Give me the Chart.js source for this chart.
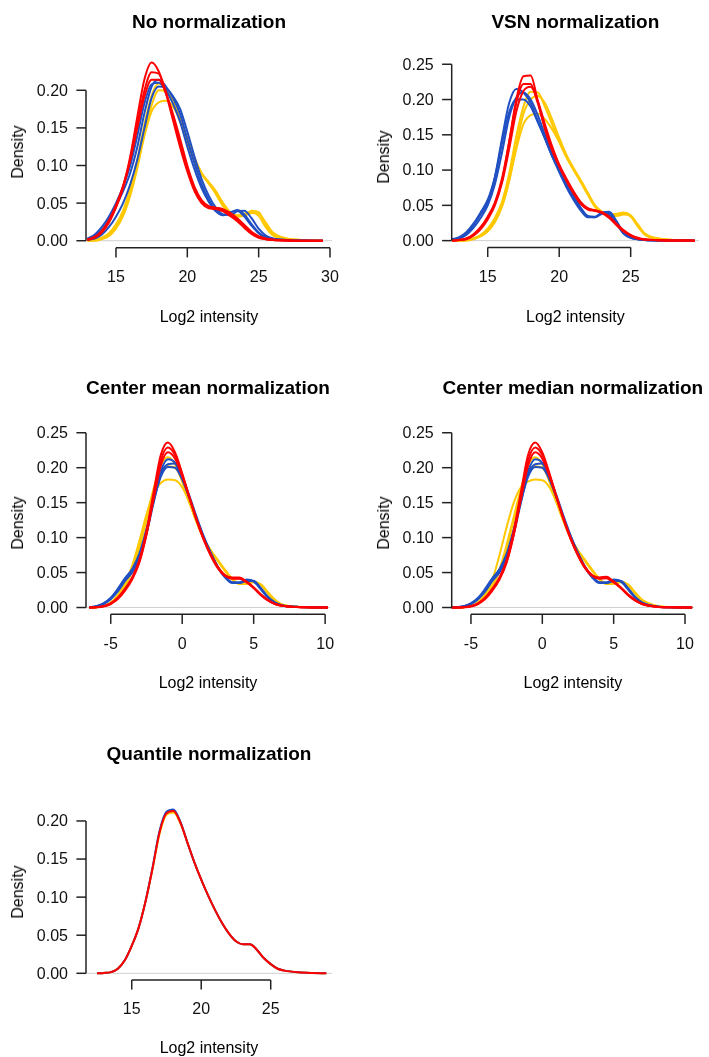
<!DOCTYPE html>
<html>
<head>
<meta charset="utf-8">
<script src="https://cdn.jsdelivr.net/npm/chart.js@4.4.1/dist/chart.umd.min.js"></script>
<style>
  body { margin: 0; background: #fff; width: 709px; height: 1057px; position: relative; overflow: hidden;
         font-family: "Liberation Sans", Arial, sans-serif; color: #000; }
  canvas { position: absolute; }
  .lbl { position: absolute; white-space: nowrap; transform: translate(-50%, -50%); font-size: 16px; line-height: 1; }
  .titulo { font-weight: bold; font-size: 19px; }
  .vert { transform: translate(-50%, -50%) rotate(-90deg); }
</style>
</head>
<body>
<script>
// Curvas de densidade (valores aproximados)

// 1. No normalization
const noNormX = [13, 13.5, 14, 14.5, 15, 15.5, 16, 16.5, 17, 17.5, 18, 18.5, 19, 19.5, 20, 20.5, 21, 21.5, 22, 22.5, 23, 23.5, 24, 24.5, 25, 25.5, 26, 27, 28, 29.5];
const noNormRed = [
  [0.001, 0.004, 0.012, 0.025, 0.045, 0.072, 0.112, 0.165, 0.215, 0.237, 0.225, 0.196, 0.16, 0.124, 0.092, 0.066, 0.05, 0.043, 0.042, 0.039, 0.033, 0.026, 0.017, 0.009, 0.004, 0.002, 0.001, 0.0003, 0, 0],
  [0.001, 0.004, 0.011, 0.024, 0.044, 0.07, 0.108, 0.155, 0.2, 0.224, 0.222, 0.198, 0.165, 0.128, 0.095, 0.07, 0.053, 0.045, 0.043, 0.04, 0.035, 0.028, 0.019, 0.01, 0.005, 0.002, 0.001, 0.0003, 0, 0],
  [0.002, 0.005, 0.013, 0.027, 0.047, 0.073, 0.107, 0.15, 0.192, 0.214, 0.214, 0.196, 0.168, 0.135, 0.1, 0.072, 0.054, 0.046, 0.044, 0.042, 0.037, 0.03, 0.021, 0.012, 0.006, 0.003, 0.0015, 0.0004, 0.0001, 0]
];
const noNormBlue = [
  [0.002, 0.006, 0.014, 0.028, 0.046, 0.066, 0.09, 0.125, 0.17, 0.205, 0.214, 0.205, 0.19, 0.168, 0.135, 0.103, 0.075, 0.055, 0.04, 0.034, 0.037, 0.041, 0.035, 0.022, 0.011, 0.005, 0.0025, 0.0008, 0.0003, 0],
  [0.001, 0.003, 0.008, 0.018, 0.032, 0.05, 0.075, 0.108, 0.15, 0.19, 0.205, 0.203, 0.192, 0.175, 0.145, 0.112, 0.082, 0.06, 0.044, 0.035, 0.034, 0.039, 0.04, 0.03, 0.016, 0.007, 0.003, 0.001, 0.0003, 0],
  [0.003, 0.008, 0.018, 0.032, 0.05, 0.072, 0.1, 0.14, 0.183, 0.208, 0.21, 0.2, 0.182, 0.158, 0.125, 0.095, 0.07, 0.052, 0.039, 0.034, 0.038, 0.04, 0.032, 0.02, 0.01, 0.004, 0.002, 0.0006, 0.0002, 0]
];
const noNormYellow = [
  [0, 0.001, 0.004, 0.01, 0.022, 0.04, 0.07, 0.108, 0.155, 0.193, 0.209, 0.203, 0.183, 0.158, 0.13, 0.105, 0.088, 0.077, 0.062, 0.046, 0.036, 0.034, 0.036, 0.038, 0.033, 0.018, 0.007, 0.002, 0.001, 0],
  [0, 0.001, 0.003, 0.008, 0.018, 0.035, 0.062, 0.1, 0.14, 0.172, 0.184, 0.186, 0.178, 0.16, 0.135, 0.11, 0.09, 0.078, 0.066, 0.05, 0.038, 0.033, 0.034, 0.04, 0.038, 0.022, 0.009, 0.002, 0.001, 0],
  [0, 0, 0.002, 0.006, 0.016, 0.033, 0.06, 0.097, 0.142, 0.18, 0.2, 0.199, 0.186, 0.163, 0.136, 0.11, 0.09, 0.076, 0.064, 0.05, 0.038, 0.032, 0.033, 0.037, 0.036, 0.024, 0.011, 0.003, 0.001, 0]
];

// 2. VSN normalization
const vsnX = [12.5, 13, 13.5, 14, 14.5, 15, 15.5, 16, 16.5, 17, 17.5, 18, 18.5, 19, 19.5, 20, 20.5, 21, 21.5, 22, 22.5, 23, 23.5, 24, 24.5, 25, 25.5, 26, 27, 28, 29.5];
const vsnRed = [
  [0, 0.001, 0.003, 0.008, 0.018, 0.033, 0.052, 0.085, 0.14, 0.2, 0.233, 0.234, 0.198, 0.158, 0.128, 0.105, 0.085, 0.067, 0.052, 0.044, 0.042, 0.039, 0.032, 0.022, 0.013, 0.007, 0.003, 0.0015, 0.0005, 0.0001, 0],
  [0, 0.001, 0.003, 0.009, 0.019, 0.034, 0.054, 0.088, 0.14, 0.195, 0.222, 0.222, 0.195, 0.16, 0.13, 0.106, 0.086, 0.068, 0.053, 0.045, 0.043, 0.04, 0.033, 0.023, 0.014, 0.007, 0.003, 0.0015, 0.0005, 0.0001, 0],
  [0, 0.001, 0.002, 0.007, 0.016, 0.03, 0.05, 0.082, 0.13, 0.183, 0.212, 0.218, 0.198, 0.165, 0.134, 0.108, 0.088, 0.07, 0.055, 0.046, 0.043, 0.04, 0.034, 0.024, 0.015, 0.008, 0.004, 0.0018, 0.0006, 0.0001, 0]
];
const vsnBlue = [
  [0.001, 0.004, 0.01, 0.022, 0.037, 0.055, 0.09, 0.145, 0.195, 0.215, 0.21, 0.195, 0.17, 0.145, 0.12, 0.1, 0.08, 0.062, 0.045, 0.034, 0.033, 0.038, 0.039, 0.025, 0.01, 0.004, 0.002, 0.001, 0.0003, 0.0001, 0],
  [0.001, 0.003, 0.008, 0.018, 0.032, 0.05, 0.08, 0.125, 0.175, 0.203, 0.21, 0.2, 0.178, 0.15, 0.124, 0.102, 0.082, 0.064, 0.047, 0.035, 0.034, 0.04, 0.041, 0.028, 0.012, 0.005, 0.002, 0.001, 0.0003, 0.0001, 0],
  [0.002, 0.005, 0.012, 0.024, 0.04, 0.058, 0.09, 0.138, 0.182, 0.2, 0.2, 0.19, 0.168, 0.145, 0.12, 0.097, 0.076, 0.058, 0.043, 0.033, 0.033, 0.039, 0.037, 0.024, 0.01, 0.004, 0.002, 0.001, 0.0003, 0.0001, 0]
];
const vsnYellow = [
  [0, 0, 0.001, 0.003, 0.008, 0.017, 0.032, 0.055, 0.095, 0.148, 0.19, 0.211, 0.21, 0.19, 0.165, 0.14, 0.118, 0.1, 0.083, 0.065, 0.048, 0.04, 0.037, 0.037, 0.039, 0.034, 0.02, 0.008, 0.002, 0.0008, 0],
  [0, 0, 0.001, 0.003, 0.007, 0.015, 0.028, 0.05, 0.085, 0.13, 0.165, 0.178, 0.18, 0.172, 0.158, 0.14, 0.12, 0.102, 0.085, 0.067, 0.05, 0.041, 0.037, 0.038, 0.04, 0.036, 0.022, 0.009, 0.0025, 0.001, 0],
  [0, 0, 0, 0.002, 0.006, 0.013, 0.026, 0.048, 0.085, 0.135, 0.18, 0.2, 0.205, 0.195, 0.172, 0.146, 0.122, 0.103, 0.086, 0.068, 0.05, 0.04, 0.035, 0.035, 0.037, 0.035, 0.023, 0.01, 0.003, 0.001, 0]
];

// 3. Center mean normalization
const meanX = [-6.5, -6, -5.5, -5, -4.5, -4, -3.5, -3, -2.5, -2, -1.5, -1, -0.5, 0, 0.5, 1, 1.5, 2, 2.5, 3, 3.5, 4, 4.5, 5, 5.5, 6, 6.5, 7, 8, 9, 10.2];
const meanRed = [
  [0, 0.0005, 0.002, 0.006, 0.014, 0.027, 0.043, 0.068, 0.11, 0.165, 0.218, 0.236, 0.222, 0.192, 0.158, 0.125, 0.097, 0.074, 0.056, 0.045, 0.041, 0.041, 0.036, 0.028, 0.018, 0.01, 0.005, 0.0025, 0.0007, 0.0002, 0],
  [0, 0.0005, 0.002, 0.006, 0.014, 0.026, 0.042, 0.066, 0.105, 0.155, 0.203, 0.222, 0.213, 0.188, 0.158, 0.127, 0.099, 0.076, 0.058, 0.046, 0.042, 0.042, 0.037, 0.029, 0.019, 0.011, 0.005, 0.0025, 0.0007, 0.0002, 0],
  [0, 0.0004, 0.0015, 0.005, 0.012, 0.024, 0.04, 0.064, 0.104, 0.158, 0.21, 0.229, 0.218, 0.19, 0.157, 0.126, 0.098, 0.075, 0.057, 0.046, 0.043, 0.043, 0.037, 0.028, 0.018, 0.01, 0.005, 0.0025, 0.0007, 0.0002, 0]
];
const meanBlue = [
  [0.0005, 0.002, 0.006, 0.013, 0.025, 0.04, 0.052, 0.074, 0.11, 0.155, 0.195, 0.212, 0.207, 0.185, 0.157, 0.127, 0.1, 0.077, 0.057, 0.043, 0.035, 0.035, 0.039, 0.037, 0.026, 0.014, 0.006, 0.003, 0.001, 0.0003, 0],
  [0.0005, 0.002, 0.006, 0.014, 0.027, 0.042, 0.055, 0.077, 0.112, 0.152, 0.187, 0.201, 0.2, 0.183, 0.157, 0.128, 0.101, 0.078, 0.058, 0.044, 0.036, 0.036, 0.04, 0.038, 0.027, 0.015, 0.007, 0.003, 0.001, 0.0003, 0],
  [0.0004, 0.0015, 0.005, 0.012, 0.023, 0.038, 0.05, 0.07, 0.105, 0.15, 0.19, 0.205, 0.206, 0.188, 0.16, 0.13, 0.102, 0.078, 0.058, 0.044, 0.036, 0.035, 0.038, 0.038, 0.028, 0.015, 0.007, 0.003, 0.001, 0.0003, 0]
];
const meanYellow = [
  [0, 0.0005, 0.002, 0.007, 0.017, 0.033, 0.055, 0.09, 0.13, 0.17, 0.203, 0.215, 0.205, 0.18, 0.15, 0.122, 0.098, 0.08, 0.066, 0.052, 0.04, 0.034, 0.035, 0.037, 0.032, 0.02, 0.009, 0.004, 0.001, 0.0003, 0],
  [0, 0.0005, 0.002, 0.007, 0.018, 0.035, 0.06, 0.095, 0.133, 0.163, 0.178, 0.183, 0.182, 0.172, 0.15, 0.125, 0.1, 0.082, 0.068, 0.054, 0.041, 0.034, 0.034, 0.037, 0.033, 0.021, 0.01, 0.004, 0.001, 0.0003, 0],
  [0, 0.0005, 0.002, 0.006, 0.015, 0.03, 0.052, 0.085, 0.125, 0.165, 0.195, 0.202, 0.2, 0.182, 0.153, 0.124, 0.099, 0.081, 0.067, 0.053, 0.041, 0.034, 0.034, 0.036, 0.033, 0.022, 0.011, 0.004, 0.001, 0.0003, 0]
];

// 4. Center median normalization
const medianX = [-6.5, -6, -5.5, -5, -4.5, -4, -3.5, -3, -2.5, -2, -1.5, -1, -0.5, 0, 0.5, 1, 1.5, 2, 2.5, 3, 3.5, 4, 4.5, 5, 5.5, 6, 6.5, 7, 8, 9, 10.5];
const medianRed = [
  [0, 0, 0.0005, 0.002, 0.006, 0.014, 0.027, 0.043, 0.068, 0.11, 0.165, 0.218, 0.236, 0.222, 0.192, 0.158, 0.125, 0.097, 0.074, 0.056, 0.045, 0.041, 0.042, 0.036, 0.028, 0.018, 0.01, 0.005, 0.001, 0.0003, 0],
  [0, 0, 0.0005, 0.002, 0.006, 0.014, 0.026, 0.042, 0.066, 0.105, 0.155, 0.203, 0.222, 0.213, 0.188, 0.158, 0.127, 0.099, 0.076, 0.058, 0.046, 0.042, 0.043, 0.037, 0.029, 0.019, 0.011, 0.005, 0.0012, 0.0003, 0],
  [0, 0, 0.0004, 0.0015, 0.005, 0.012, 0.024, 0.04, 0.064, 0.104, 0.158, 0.21, 0.229, 0.218, 0.19, 0.157, 0.126, 0.098, 0.075, 0.057, 0.046, 0.043, 0.044, 0.037, 0.028, 0.018, 0.01, 0.005, 0.0012, 0.0003, 0]
];
const medianBlue = [
  [0.0002, 0.0005, 0.002, 0.006, 0.013, 0.025, 0.04, 0.052, 0.074, 0.11, 0.155, 0.195, 0.212, 0.207, 0.185, 0.157, 0.127, 0.1, 0.077, 0.057, 0.043, 0.035, 0.035, 0.039, 0.037, 0.026, 0.014, 0.006, 0.0015, 0.0004, 0],
  [0.0002, 0.0005, 0.002, 0.006, 0.014, 0.027, 0.042, 0.055, 0.077, 0.112, 0.152, 0.187, 0.201, 0.2, 0.183, 0.157, 0.128, 0.101, 0.078, 0.058, 0.044, 0.036, 0.036, 0.04, 0.038, 0.027, 0.015, 0.007, 0.0016, 0.0004, 0],
  [0.0001, 0.0004, 0.0015, 0.005, 0.012, 0.023, 0.038, 0.05, 0.07, 0.105, 0.15, 0.19, 0.205, 0.206, 0.188, 0.16, 0.13, 0.102, 0.078, 0.058, 0.044, 0.036, 0.035, 0.038, 0.038, 0.028, 0.015, 0.007, 0.0016, 0.0004, 0]
];
const medianYellow = [
  [0, 0, 0.0005, 0.002, 0.007, 0.017, 0.033, 0.055, 0.09, 0.13, 0.17, 0.203, 0.215, 0.205, 0.18, 0.15, 0.122, 0.098, 0.08, 0.066, 0.052, 0.04, 0.034, 0.035, 0.037, 0.032, 0.02, 0.009, 0.002, 0.0005, 0],
  [0, 0, 0.0005, 0.002, 0.008, 0.02, 0.04, 0.075, 0.115, 0.15, 0.172, 0.18, 0.183, 0.182, 0.172, 0.15, 0.125, 0.1, 0.082, 0.068, 0.054, 0.041, 0.034, 0.034, 0.037, 0.033, 0.021, 0.01, 0.002, 0.0005, 0],
  [0, 0, 0.0005, 0.002, 0.006, 0.015, 0.03, 0.052, 0.085, 0.125, 0.165, 0.195, 0.202, 0.2, 0.182, 0.153, 0.124, 0.099, 0.081, 0.067, 0.053, 0.041, 0.034, 0.034, 0.036, 0.033, 0.022, 0.011, 0.0025, 0.0005, 0]
];

// 5. Quantile normalization (curvas praticamente sobrepostas)
const quantX = [12.5, 13, 13.5, 14, 14.5, 15, 15.5, 16, 16.5, 17, 17.5, 18, 18.5, 19, 19.5, 20, 20.5, 21, 21.5, 22, 22.5, 23, 23.5, 24, 24.5, 25, 25.5, 26, 27, 28, 29];
const quantRed = [
  [0, 0.0005, 0.0015, 0.006, 0.017, 0.036, 0.06, 0.095, 0.138, 0.185, 0.21, 0.213, 0.198, 0.172, 0.146, 0.123, 0.102, 0.083, 0.066, 0.052, 0.042, 0.038, 0.038, 0.031, 0.02, 0.012, 0.006, 0.0035, 0.0013, 0.0004, 0]
];
const quantBlue = [
  [0, 0.0005, 0.0015, 0.006, 0.017, 0.036, 0.06, 0.095, 0.139, 0.187, 0.212, 0.215, 0.199, 0.172, 0.146, 0.123, 0.102, 0.083, 0.066, 0.052, 0.042, 0.038, 0.038, 0.031, 0.02, 0.012, 0.006, 0.0035, 0.0013, 0.0004, 0]
];
const quantYellow = [
  [0, 0.0005, 0.0015, 0.006, 0.017, 0.036, 0.06, 0.095, 0.137, 0.183, 0.208, 0.211, 0.197, 0.172, 0.146, 0.123, 0.102, 0.083, 0.066, 0.052, 0.042, 0.038, 0.038, 0.031, 0.02, 0.012, 0.006, 0.0035, 0.0013, 0.0004, 0]
];

// rótulos dos eixos
const ticksY1 = [0, 0.05, 0.10, 0.15, 0.20];
const ticksY2 = [0, 0.05, 0.10, 0.15, 0.20, 0.25];
const ticksXLog = [15, 20, 25, 30];
const ticksXVsn = [15, 20, 25];
const ticksXCenter = [-5, 0, 5, 10];

const titulos = ['No normalization', 'VSN normalization', 'Center mean normalization', 'Center median normalization', 'Quantile normalization'];

const RED = '#FF0000', BLUE = '#1F4FC2', YELLOW = '#FFC800';

// caixa do canvas e área do gráfico (coordenadas da página)
const paineis = [
  { box: [0, 0, 354, 365], plot: [86, 55.3, 332, 247.8], xr: [12.9, 30.14], yr: [-0.0094, 0.2465],
    xs: noNormX, red: noNormRed, blue: noNormBlue, yellow: noNormYellow, tx: ticksXLog, ty: ticksY1, xlabY: 317 },
  { box: [354, 0, 355, 365], plot: [451.7, 66.3, 699, 247.4], xr: [12.48, 29.78], yr: [-0.0096, 0.2471],
    xs: vsnX, red: vsnRed, blue: vsnBlue, yellow: vsnYellow, tx: ticksXVsn, ty: ticksY2, xlabY: 317 },
  { box: [0, 365, 354, 365], plot: [86, 431.7, 330, 614.3], xr: [-6.73, 10.34], yr: [-0.0097, 0.2515],
    xs: meanX, red: meanRed, blue: meanBlue, yellow: meanYellow, tx: ticksXCenter, ty: ticksY2, xlabY: 683 },
  { box: [354, 365, 355, 365], plot: [451.7, 431.7, 694, 614.3], xr: [-6.35, 10.63], yr: [-0.0097, 0.2515],
    xs: medianX, red: medianRed, blue: medianBlue, yellow: medianYellow, tx: ticksXCenter, ty: ticksY2, xlabY: 683 },
  { box: [0, 730, 354, 327], plot: [86, 803, 332, 980], xr: [11.71, 29.41], yr: [-0.0088, 0.2236],
    xs: quantX, red: quantRed, blue: quantBlue, yellow: quantYellow, tx: ticksXVsn, ty: ticksY1, xlabY: 1048 }
];

function addLabel(text, x, y, cls) {
  const d = document.createElement('div');
  d.className = 'lbl ' + (cls || '');
  d.textContent = text;
  d.style.left = x + 'px';
  d.style.top = y + 'px';
  document.body.appendChild(d);
}

paineis.forEach((p, idx) => {
  const [bx, by, bw, bh] = p.box;
  const [pl, pt, pr, pb] = p.plot;
  const cv = document.createElement('canvas');
  cv.width = bw; cv.height = bh;
  cv.style.left = bx + 'px'; cv.style.top = by + 'px';
  cv.style.width = bw + 'px'; cv.style.height = bh + 'px';
  document.body.appendChild(cv);

  const mk = (arr, cor) => arr.map(ys => ({
    data: p.xs.map((x, i) => ({ x: x, y: ys[i] })),
    borderColor: cor, borderWidth: 2, pointRadius: 0, cubicInterpolationMode: 'monotone', fill: false
  }));
  // índice 0 fica por cima: vermelho, azul, amarelo
  const datasets = [...mk(p.red, RED), ...mk(p.blue, BLUE), ...mk(p.yellow, YELLOW)];

  // eixos no estilo do R (linhas só entre o primeiro e o último tick)
  const eixosR = {
    id: 'eixosR' + idx,
    beforeDatasetsDraw(chart) {
      const c = chart.ctx, a = chart.chartArea, sy = chart.scales.y;
      c.save();
      c.strokeStyle = '#d0d0d0';
      c.lineWidth = 1;
      const y0 = sy.getPixelForValue(0);
      c.beginPath(); c.moveTo(a.left, y0); c.lineTo(a.right, y0); c.stroke();
      c.restore();
    },
    afterDraw(chart) {
      const c = chart.ctx, a = chart.chartArea, sx = chart.scales.x, sy = chart.scales.y;
      c.save();
      c.strokeStyle = '#222';
      c.fillStyle = '#111';
      c.lineWidth = 1.5;
      c.font = '16px "Liberation Sans", Arial, sans-serif';
      // eixo y
      const ya = sy.getPixelForValue(p.ty[0]), yb = sy.getPixelForValue(p.ty[p.ty.length - 1]);
      c.beginPath(); c.moveTo(a.left, ya); c.lineTo(a.left, yb); c.stroke();
      c.textAlign = 'right'; c.textBaseline = 'middle';
      p.ty.forEach(v => {
        const y = sy.getPixelForValue(v);
        c.beginPath(); c.moveTo(a.left, y); c.lineTo(a.left - 9.6, y); c.stroke();
        c.fillText(v.toFixed(2), a.left - 18, y + 1);
      });
      // eixo x
      const xa = sx.getPixelForValue(p.tx[0]), xb = sx.getPixelForValue(p.tx[p.tx.length - 1]);
      c.beginPath(); c.moveTo(xa, a.bottom); c.lineTo(xb, a.bottom); c.stroke();
      c.textAlign = 'center'; c.textBaseline = 'middle';
      p.tx.forEach(v => {
        const x = sx.getPixelForValue(v);
        c.beginPath(); c.moveTo(x, a.bottom); c.lineTo(x, a.bottom + 9.6); c.stroke();
        c.fillText(String(v), x, a.bottom + 30);
      });
      c.restore();
    }
  };

  new Chart(cv, {
    type: 'line',
    data: { datasets: datasets },
    options: {
      responsive: false,
      animation: false,
      events: [],
      layout: { padding: { left: pl - bx, top: pt - by, right: bx + bw - pr, bottom: by + bh - pb } },
      scales: {
        x: { type: 'linear', display: false, min: p.xr[0], max: p.xr[1] },
        y: { type: 'linear', display: false, min: p.yr[0], max: p.yr[1] }
      },
      plugins: { legend: { display: false }, tooltip: { enabled: false } }
    },
    plugins: [eixosR]
  });

  const cx = (pl + pr) / 2, cy = (pt + pb) / 2;
  const tituloY = [21, 21, 387, 387, 753][idx];
  addLabel(titulos[idx], cx, tituloY, 'titulo');
  addLabel('Log2 intensity', cx, p.xlabY);
  addLabel('Density', pl - 68, cy, 'vert');
});
</script>
</body>
</html>
